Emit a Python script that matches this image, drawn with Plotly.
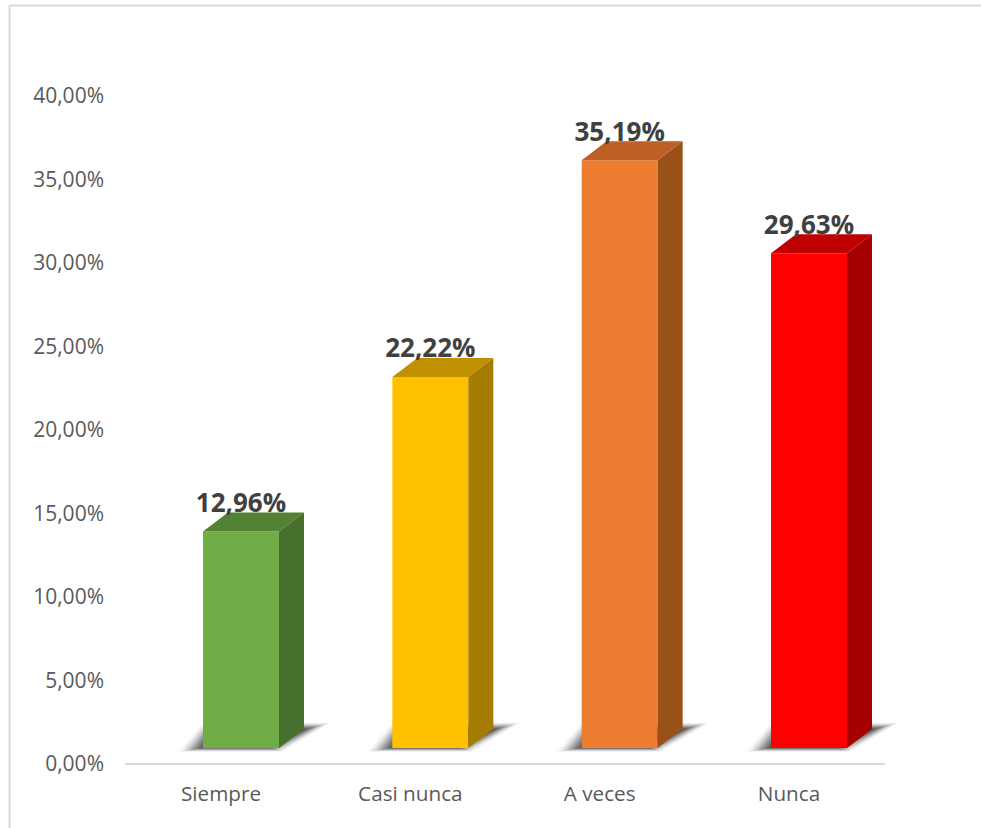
import plotly.graph_objects as go

categories = ["Siempre", "Casi nunca", "A veces", "Nunca"]
values = [12.96, 22.22, 35.19, 29.63]
front_colors = ["#70AD47", "#FFC000", "#ED7D31", "#FF0000"]
top_colors = ["#548235", "#BF9000", "#BE5F26", "#BF0000"]
side_colors = ["#47702E", "#A67C00", "#9A5119", "#A60000"]

W, H = 981, 828
L, R, T, B = 125, 96, 95, 65
STEP = 189.33
X_MIN, X_MAX = -0.507, 3.507
Y_MIN, Y_MAX = 0.0, 40.0
PX_X = 1 / STEP           # axis units per pixel
PX_Y = 40.0 / 668         # axis units per pixel
FLOOR = 15 * PX_Y
BAR_W = 76 * PX_X
SHIFT = 20 * PX_X
DX = 25 * PX_X
DY = 19 * PX_Y

fig = go.Figure()
xs = [i + SHIFT for i in range(len(values))]

fig.add_trace(go.Bar(x=xs, y=values, base=FLOOR, width=BAR_W,
                     marker=dict(color=front_colors, line=dict(width=0)), hoverinfo="skip"))

for x, v, tc, sc in zip(xs, values, top_colors, side_colors):
    x0, x1 = x - BAR_W / 2, x + BAR_W / 2
    yt = v + FLOOR
    fig.add_trace(go.Scatter(x=[x0, x1, x1 + DX, x0 + DX, x0], y=[yt, yt, yt + DY, yt + DY, yt],
                             fill="toself", fillcolor=tc, mode="none", hoverinfo="skip"))
    fig.add_trace(go.Scatter(x=[x1, x1 + DX, x1 + DX, x1, x1], y=[FLOOR, FLOOR + DY, yt + DY, yt, FLOOR],
                             fill="toself", fillcolor=sc, mode="none", hoverinfo="skip"))

fig.add_trace(go.Scatter(
    x=xs, y=[v + FLOOR + DY + 7 * PX_Y for v in values], mode="text",
    text=[f"{v:.2f}%".replace(".", ",") for v in values], textposition="middle center",
    textfont=dict(family="Open Sans", size=26, color="#404040", weight=700), hoverinfo="skip"))


def to_paper(x, y):
    return (x - X_MIN) / (X_MAX - X_MIN), (y - Y_MIN) / (Y_MAX - Y_MIN)


shapes = []
N = 18
for x in xs:
    x0 = x - BAR_W / 2
    for k in range(N):
        g = k * 1.0  # inset in pixels per blur layer
        alpha = 0.012 + 0.011 * k
        pts = [(-26 + g * 1.8, -4 + g * 0.3), (-2 + g, 24 - g * 0.35), (130 - g * 1.9, 26 - g * 0.5), (80 - g, -4 + g * 0.3)]
        coords = [to_paper(x0 + px * PX_X, FLOOR + py * PX_Y) for px, py in pts]
        path = "M " + " L ".join(f"{a},{b}" for a, b in coords) + " Z"
        shapes.append(dict(type="path", xref="paper", yref="paper", path=path, layer="below",
                           fillcolor=f"rgba(40,40,40,{alpha:.3f})", line=dict(width=0)))

# outer frame of the picture
pw, ph = W - L - R, H - T - B
fx0 = (9.5 - L) / pw
fx1 = (W - L) / pw
fy_top = 1 + (T - 5.5) / ph
fy_bot = -B / ph
line = dict(color="#D9D9D9", width=2)
shapes.append(dict(type="line", xref="paper", yref="paper", x0=fx0, x1=fx1, y0=fy_top, y1=fy_top, line=line))
shapes.append(dict(type="line", xref="paper", yref="paper", x0=fx0, x1=fx0, y0=fy_bot, y1=fy_top, line=line))

fig.update_layout(
    width=W, height=H, autosize=False,
    margin=dict(l=L, r=R, t=T, b=B, pad=0),
    paper_bgcolor="white", plot_bgcolor="white",
    showlegend=False, separators=",.",
    font=dict(family="Open Sans", size=20, color="#595959"),
    shapes=shapes,
    xaxis=dict(range=[X_MIN, X_MAX], tickmode="array", tickvals=list(range(len(categories))), ticktext=categories,
               showgrid=False, zeroline=False, showline=True, linecolor="#D9D9D9", linewidth=2, ticks="",
               ticklabelstandoff=11, tickfont=dict(size=20.7, color="#595959")),
    yaxis=dict(range=[Y_MIN, Y_MAX], dtick=5, tickformat=".2f", ticksuffix="%", showgrid=False, zeroline=False,
               showline=False, ticks="", ticklabelstandoff=20, ticklabelshift=1, tickfont=dict(size=21, color="#595959")),
)
fig.write_html("out.html", post_script="document.body.style.margin='0';", config={"displayModeBar": False})
